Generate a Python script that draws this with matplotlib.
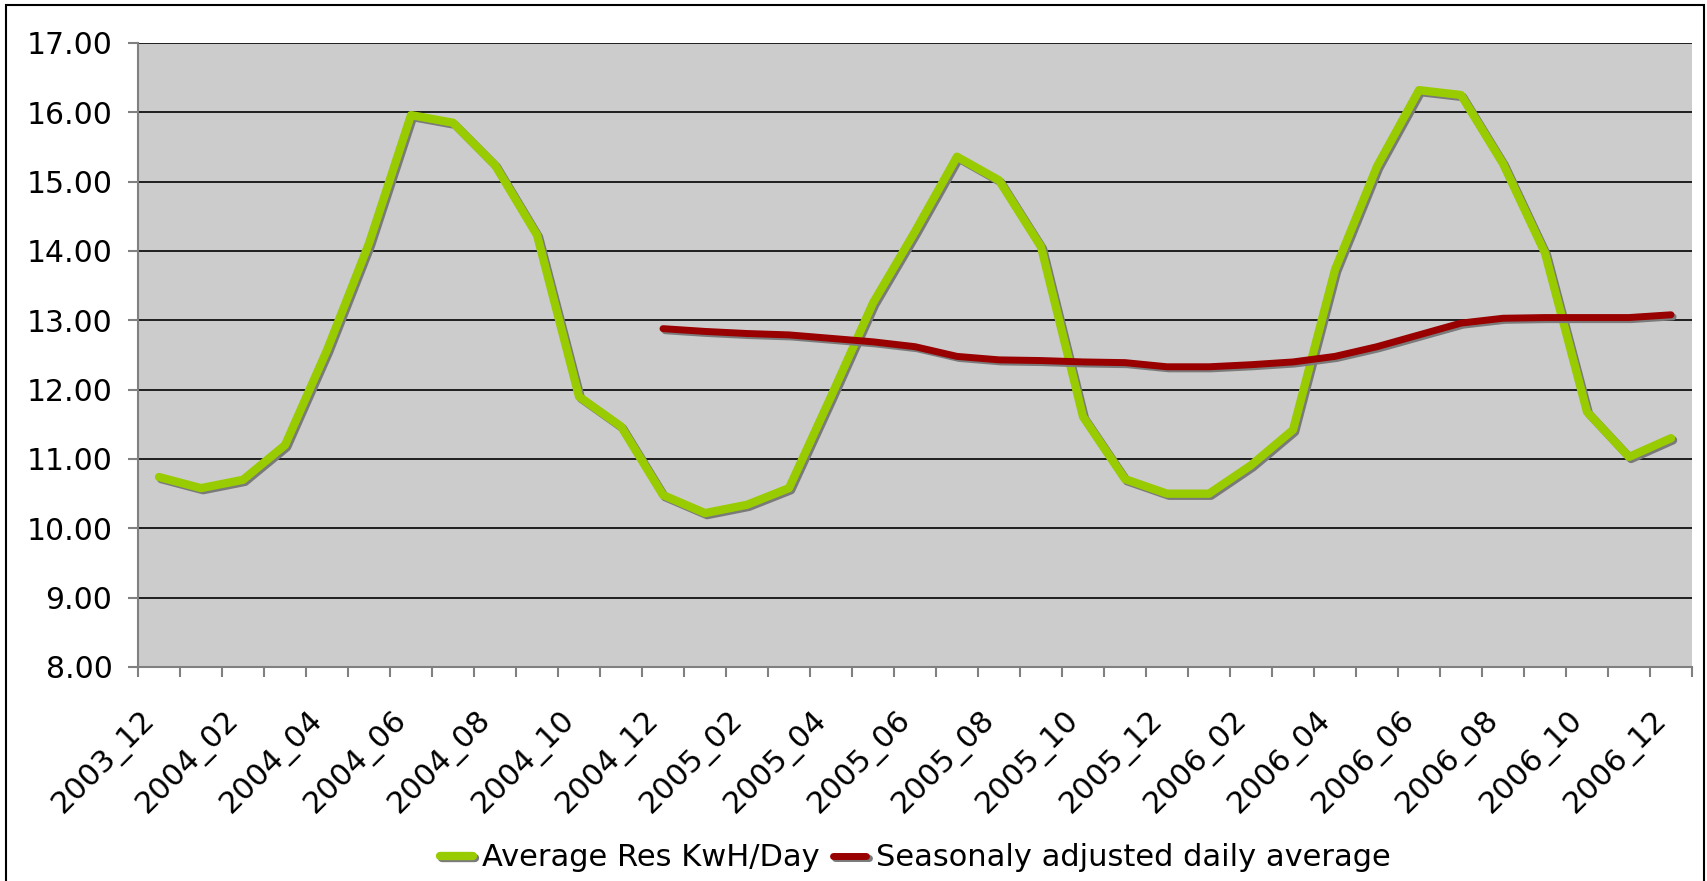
import numpy as np
import matplotlib.pyplot as plt
import matplotlib.patheffects as pe
from matplotlib.patches import Rectangle
from matplotlib.transforms import ScaledTranslation

months = ["2003_12",
          "2004_01", "2004_02", "2004_03", "2004_04", "2004_05", "2004_06",
          "2004_07", "2004_08", "2004_09", "2004_10", "2004_11", "2004_12",
          "2005_01", "2005_02", "2005_03", "2005_04", "2005_05", "2005_06",
          "2005_07", "2005_08", "2005_09", "2005_10", "2005_11", "2005_12",
          "2006_01", "2006_02", "2006_03", "2006_04", "2006_05", "2006_06",
          "2006_07", "2006_08", "2006_09", "2006_10", "2006_11", "2006_12"]

avg_kwh = [10.74, 10.58, 10.70, 11.20, 12.57, 14.11, 15.96, 15.85, 15.24,
           14.23, 11.90, 11.47, 10.48, 10.22, 10.34, 10.58, 11.90, 13.25,
           14.28, 15.36, 15.02, 14.06, 11.61, 10.71, 10.50, 10.50, 10.91,
           11.42, 13.73, 15.22, 16.32, 16.25, 15.26, 13.97, 11.68, 11.03,
           11.30]

seasonal = [np.nan] * 12 + [12.88, 12.84, 12.81, 12.79, 12.74, 12.69, 12.62,
                            12.48, 12.43, 12.42, 12.40, 12.39, 12.33, 12.33,
                            12.36, 12.40, 12.48, 12.62, 12.79, 12.96, 13.03,
                            13.04, 13.04, 13.04, 13.08]

W, H = 1707, 881
fig = plt.figure(figsize=(W / 100, H / 100), dpi=100)
ax = fig.add_axes([138 / W, 1 - 667 / H, 1554 / W, 624 / H])
ax.set_facecolor("#CCCCCC")

x = np.arange(len(months)) + 0.5
shadow = [pe.SimpleLineShadow(offset=(1.5, -1.5), shadow_color="#7A7A7A", alpha=1),
          pe.Normal()]

ax.plot(x, avg_kwh, color="#99CC00", linewidth=6, solid_joinstyle="round",
        solid_capstyle="round", path_effects=shadow, label="Average Res KwH/Day",
        zorder=3)
ax.plot(x, seasonal, color="#990000", linewidth=5, solid_joinstyle="round",
        solid_capstyle="round", path_effects=shadow,
        label="Seasonaly adjusted daily average", zorder=4)

ax.set_xlim(0, len(months))
ax.set_ylim(8, 17)

# y axis
ax.set_yticks(np.arange(8, 18))
ax.set_yticklabels([f"{v:.2f}" for v in range(8, 18)])
ax.yaxis.grid(True, color="black", linewidth=1.2)
ax.set_axisbelow(True)
ax.tick_params(axis="y", length=7.4, width=1.5, color="#808080",
               labelsize=21.5, pad=11)

# x axis: tick marks between categories, labels every 2nd month
ax.set_xticks(np.arange(0, len(months) + 1), minor=True)
ax.tick_params(axis="x", which="minor", length=7.4, width=1.5, color="#808080")
ax.set_xticks(x[::2])
ax.set_xticklabels(months[::2], rotation=45, ha="right", va="center",
                   rotation_mode="anchor", fontsize=22)
ax.tick_params(axis="x", which="major", length=0, pad=35)
shift = ScaledTranslation(-0.08, 0, fig.dpi_scale_trans)
for lab in ax.get_xticklabels():
    lab.set_transform(lab.get_transform() + shift)

for side in ["top", "right"]:
    ax.spines[side].set_visible(False)
for side in ["left", "bottom"]:
    ax.spines[side].set_color("#808080")
    ax.spines[side].set_linewidth(1.5)

fig.legend(loc="center", bbox_to_anchor=(915 / W, 1 - 858 / H), ncol=2,
           frameon=False, fontsize=22, handlelength=1.1, handletextpad=0.3,
           columnspacing=0.42, borderpad=0, borderaxespad=0)

fig.patches.append(Rectangle((6 / W, -0.02), 1698 / W, 1.02 - 5 / H,
                             transform=fig.transFigure, fill=False,
                             edgecolor="black", linewidth=1.5))

fig.savefig("out.png", dpi=100)
